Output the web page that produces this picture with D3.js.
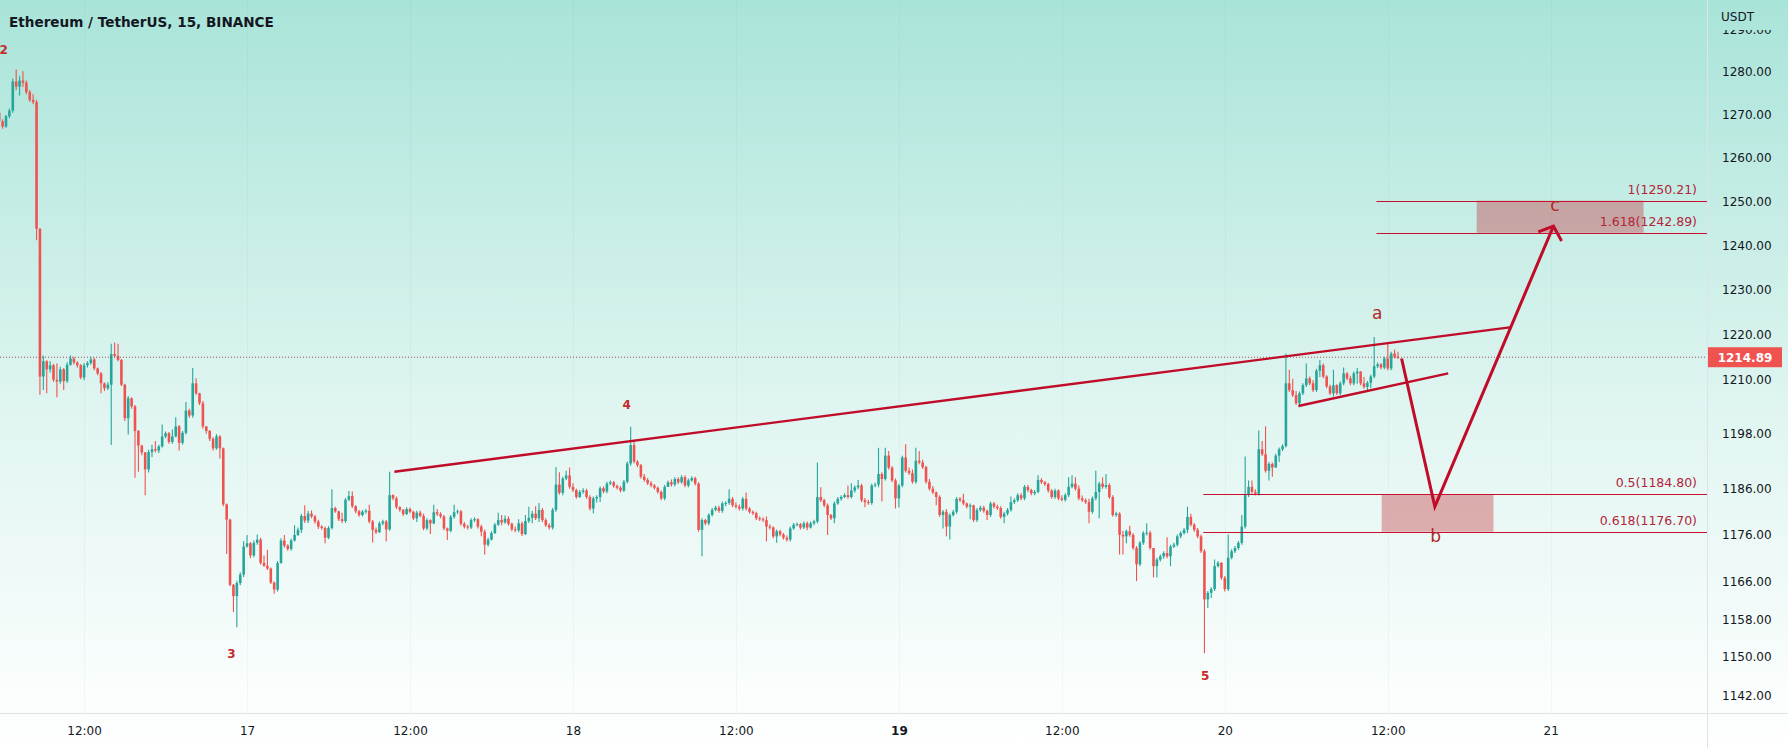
<!DOCTYPE html>
<html>
<head>
<meta charset="utf-8">
<script src="https://cdnjs.cloudflare.com/ajax/libs/d3/7.8.5/d3.min.js"></script>
<style>
html, body { margin: 0; padding: 0; background: #fff; }
body { width: 1788px; height: 748px; overflow: hidden; }
svg text { font-family: "DejaVu Sans", sans-serif; }
</style>
</head>
<body>
<svg id="chart" width="1788" height="748"></svg>
<script>
// ETHUSDT 15m candles, 16 05:45 -> 20 12:45 (open of each bar = previous close)
var firstOpen = 1270.5;
var closes = [
	1268.5, 1267.3, 1269.7, 1271.0, 1277.8, 1276.6, 1278.0, 1277.5, 1275.3, 1273.5,
	1273.0, 1243.8, 1210.6, 1214.0, 1212.2, 1213.1, 1209.9, 1209.5, 1212.2, 1209.6,
	1213.2, 1214.6, 1213.7, 1213.1, 1210.4, 1213.1, 1213.6, 1214.4, 1212.4, 1211.3,
	1209.1, 1208.0, 1208.8, 1215.6, 1215.2, 1214.3, 1208.8, 1201.4, 1205.8, 1204.0,
	1198.6, 1195.4, 1193.9, 1190.2, 1194.0, 1194.6, 1194.3, 1195.2, 1197.4, 1198.1,
	1196.2, 1197.4, 1199.6, 1196.0, 1198.2, 1203.1, 1202.0, 1209.1, 1206.9, 1204.7,
	1199.6, 1198.6, 1196.9, 1194.8, 1197.4, 1194.8, 1182.6, 1179.3, 1165.3, 1162.9,
	1165.7, 1167.5, 1173.5, 1174.2, 1171.6, 1174.3, 1175.0, 1170.0, 1169.4, 1168.8,
	1165.8, 1164.3, 1170.0, 1174.8, 1173.7, 1173.0, 1174.8, 1176.0, 1177.1, 1180.1,
	1179.1, 1180.6, 1180.0, 1178.9, 1177.8, 1177.5, 1175.4, 1177.5, 1181.8, 1181.1,
	1179.4, 1179.0, 1183.6, 1184.4, 1182.2, 1181.1, 1180.3, 1181.0, 1181.2, 1178.9,
	1177.1, 1176.6, 1178.5, 1178.9, 1177.2, 1184.6, 1183.9, 1182.0, 1181.4, 1180.5,
	1181.6, 1181.0, 1179.6, 1180.8, 1180.1, 1177.4, 1179.2, 1178.5, 1180.9, 1180.5,
	1180.0, 1177.4, 1176.9, 1179.9, 1180.9, 1181.1, 1178.4, 1177.8, 1177.6, 1179.2,
	1179.4, 1177.8, 1176.7, 1173.9, 1175.0, 1176.4, 1178.2, 1179.2, 1178.7, 1179.5,
	1178.4, 1177.2, 1177.0, 1178.5, 1176.2, 1179.0, 1179.7, 1180.6, 1179.6, 1181.4,
	1179.2, 1178.1, 1177.6, 1181.4, 1186.9, 1185.1, 1188.2, 1188.9, 1186.4, 1185.7,
	1184.2, 1185.3, 1185.6, 1184.2, 1181.7, 1183.9, 1184.2, 1186.1, 1185.4, 1187.1,
	1187.4, 1186.6, 1186.2, 1185.6, 1187.5, 1191.5, 1195.5, 1191.9, 1191.1, 1188.6,
	1187.9, 1187.2, 1186.7, 1186.2, 1185.3, 1183.9, 1186.4, 1187.4, 1186.9, 1188.1,
	1187.4, 1188.5, 1186.7, 1187.8, 1188.3, 1187.1, 1177.1, 1179.2, 1178.5, 1180.3,
	1181.4, 1181.9, 1181.2, 1182.8, 1182.9, 1183.8, 1182.4, 1182.1, 1181.7, 1183.8,
	1181.7, 1181.0, 1180.7, 1179.6, 1179.4, 1179.2, 1177.8, 1177.6, 1175.7, 1176.8,
	1176.1, 1175.4, 1175.0, 1177.4, 1178.2, 1178.3, 1177.6, 1178.5, 1177.6, 1178.5,
	1178.9, 1184.2, 1183.5, 1182.4, 1180.3, 1179.6, 1182.8, 1183.8, 1184.2, 1184.6,
	1184.2, 1185.6, 1186.3, 1186.7, 1183.5, 1183.1, 1182.9, 1186.7, 1186.9, 1189.2,
	1188.1, 1193.2, 1190.6, 1187.8, 1183.9, 1186.7, 1192.8, 1189.9, 1189.4, 1187.5,
	1192.1, 1191.7, 1190.7, 1187.5, 1186.0, 1185.2, 1184.2, 1180.3, 1181.0, 1177.8,
	1180.3, 1181.0, 1183.8, 1183.5, 1182.8, 1182.1, 1182.4, 1179.2, 1181.4, 1181.9,
	1181.2, 1180.3, 1182.8, 1182.1, 1181.8, 1179.9, 1180.6, 1181.4, 1183.1, 1183.5,
	1184.6, 1183.9, 1186.4, 1185.7, 1185.0, 1185.3, 1187.9, 1187.4, 1187.0, 1185.6,
	1184.2, 1185.6, 1183.9, 1183.6, 1184.6, 1186.4, 1187.1, 1186.0, 1183.9, 1183.5,
	1183.1, 1181.0, 1183.9, 1185.3, 1187.1, 1186.4, 1186.8, 1184.2, 1180.3, 1180.6,
	1176.0, 1175.7, 1176.8, 1176.0, 1173.2, 1169.7, 1174.3, 1176.4, 1176.5, 1173.2,
	1169.3, 1170.7, 1171.4, 1172.1, 1171.4, 1173.5, 1173.9, 1175.7, 1176.4, 1177.1,
	1179.9, 1178.2, 1177.1, 1175.7, 1172.5, 1162.2, 1163.6, 1164.4, 1169.3, 1170.0,
	1166.8, 1164.4, 1171.1, 1172.5, 1173.2, 1174.3, 1177.8, 1184.6, 1186.4, 1185.3,
	1184.9, 1194.6, 1193.5, 1189.9, 1191.4, 1190.6, 1193.2, 1194.6, 1195.3, 1209.1,
	1207.6, 1206.5, 1204.7, 1206.9, 1208.7, 1210.2, 1209.1, 1207.6, 1211.9, 1213.1,
	1210.6, 1208.4, 1206.9, 1208.7, 1206.9, 1209.1, 1211.3, 1210.2, 1209.1, 1211.3,
	1211.7, 1209.1, 1208.3, 1209.2, 1210.6, 1212.9, 1213.3, 1212.6, 1214.6, 1212.4,
	1215.7, 1215.0, 1214.89
];
var highs = [
	1271.0, 1269.0, 1270.0, 1271.5, 1278.5, 1280.6, 1279.0, 1280.2, 1278.0, 1275.8,
	1274.8, 1273.5, 1244.0, 1215.3, 1214.2, 1214.0, 1213.4, 1213.5, 1212.8, 1212.5,
	1213.8, 1215.3, 1215.0, 1214.0, 1213.4, 1213.6, 1214.0, 1215.0, 1214.8, 1212.6,
	1211.6, 1209.3, 1209.4, 1217.9, 1218.2, 1217.9, 1214.5, 1209.0, 1206.3, 1206.0,
	1204.3, 1198.8, 1195.6, 1194.0, 1194.5, 1195.6, 1196.4, 1195.6, 1200.0, 1198.5,
	1198.4, 1198.9, 1201.6, 1199.9, 1198.6, 1205.0, 1203.5, 1212.5, 1210.2, 1207.0,
	1205.2, 1199.7, 1198.8, 1197.2, 1197.9, 1197.7, 1195.0, 1182.8, 1179.5, 1165.5,
	1166.2, 1168.0, 1174.7, 1176.0, 1174.5, 1174.8, 1176.1, 1175.4, 1171.6, 1172.8,
	1169.0, 1166.0, 1170.4, 1175.3, 1176.0, 1174.0, 1175.2, 1178.1, 1177.6, 1180.5,
	1182.4, 1181.2, 1181.3, 1180.3, 1179.3, 1178.1, 1177.8, 1177.9, 1185.9, 1182.1,
	1181.2, 1180.8, 1184.0, 1185.5, 1185.4, 1182.4, 1181.4, 1181.4, 1181.6, 1182.5,
	1179.2, 1177.6, 1178.9, 1179.3, 1179.2, 1189.7, 1184.8, 1184.3, 1182.2, 1181.6,
	1182.0, 1181.9, 1181.2, 1181.2, 1181.3, 1180.6, 1179.6, 1179.4, 1182.5, 1181.6,
	1180.9, 1180.3, 1177.6, 1180.3, 1182.5, 1181.5, 1181.4, 1178.8, 1178.2, 1179.6,
	1179.8, 1179.6, 1178.2, 1177.2, 1175.4, 1176.8, 1178.6, 1180.8, 1180.3, 1180.2,
	1180.0, 1178.7, 1177.8, 1179.4, 1178.9, 1180.3, 1182.1, 1181.2, 1182.2, 1182.9,
	1181.8, 1179.6, 1178.5, 1181.8, 1190.7, 1189.6, 1188.6, 1189.9, 1190.6, 1187.2,
	1186.0, 1185.7, 1186.1, 1186.0, 1184.6, 1184.3, 1184.6, 1186.5, 1186.5, 1187.5,
	1187.8, 1187.7, 1186.9, 1186.6, 1187.9, 1191.9, 1199.5, 1196.6, 1192.2, 1191.4,
	1189.2, 1188.3, 1187.7, 1187.0, 1186.5, 1185.6, 1186.8, 1187.8, 1188.0, 1188.5,
	1188.5, 1188.9, 1188.9, 1188.2, 1188.7, 1188.6, 1187.4, 1179.6, 1179.5, 1180.7,
	1181.8, 1182.3, 1182.3, 1183.2, 1183.3, 1185.9, 1184.2, 1183.0, 1182.6, 1184.2,
	1185.2, 1182.0, 1181.3, 1181.0, 1180.0, 1179.8, 1180.0, 1178.3, 1177.9, 1177.2,
	1177.1, 1176.4, 1175.9, 1177.8, 1178.6, 1178.7, 1178.6, 1178.9, 1178.9, 1178.9,
	1179.3, 1191.7, 1186.3, 1183.8, 1182.8, 1180.5, 1183.2, 1184.2, 1184.6, 1185.0,
	1186.7, 1187.2, 1186.7, 1187.9, 1187.1, 1184.0, 1183.6, 1187.1, 1187.3, 1194.9,
	1189.6, 1194.9, 1194.2, 1190.9, 1188.2, 1187.1, 1193.2, 1195.7, 1190.6, 1190.2,
	1194.9, 1194.2, 1192.3, 1191.0, 1188.1, 1186.6, 1185.4, 1184.6, 1181.4, 1181.6,
	1180.7, 1181.4, 1184.2, 1184.2, 1184.9, 1183.0, 1182.8, 1182.5, 1181.8, 1182.3,
	1182.3, 1181.5, 1183.2, 1183.1, 1182.5, 1182.2, 1181.0, 1181.8, 1184.3, 1183.9,
	1185.0, 1185.0, 1186.8, 1186.8, 1186.0, 1185.7, 1188.9, 1188.3, 1187.7, 1187.3,
	1185.9, 1186.0, 1185.9, 1184.6, 1185.0, 1188.5, 1188.9, 1188.5, 1186.7, 1184.5,
	1183.9, 1183.8, 1184.3, 1189.9, 1187.5, 1188.5, 1189.2, 1187.2, 1184.6, 1181.0,
	1180.9, 1176.9, 1177.2, 1178.0, 1176.4, 1173.6, 1174.7, 1176.8, 1178.5, 1176.9,
	1173.0, 1171.1, 1171.8, 1172.5, 1175.5, 1173.9, 1174.3, 1176.1, 1176.8, 1177.5,
	1182.1, 1180.6, 1178.6, 1177.5, 1176.1, 1172.9, 1164.0, 1164.8, 1170.7, 1170.4,
	1170.2, 1167.2, 1176.1, 1172.9, 1173.6, 1174.7, 1180.3, 1193.0, 1187.8, 1187.8,
	1185.9, 1198.7, 1196.4, 1199.6, 1191.8, 1191.7, 1193.6, 1195.0, 1195.7, 1215.7,
	1212.1, 1210.1, 1207.4, 1207.3, 1209.1, 1213.5, 1210.6, 1209.8, 1212.3, 1214.3,
	1213.5, 1210.9, 1208.8, 1212.1, 1208.9, 1209.5, 1212.6, 1211.6, 1210.8, 1211.7,
	1212.5, 1211.8, 1210.5, 1209.6, 1211.0, 1219.4, 1213.7, 1213.6, 1215.0, 1218.3,
	1216.1, 1216.6, 1216.1
];
var lows = [
	1267.5, 1266.8, 1267.0, 1269.2, 1270.5, 1275.8, 1274.5, 1276.5, 1274.8, 1273.0,
	1272.5, 1241.2, 1206.6, 1207.6, 1206.9, 1211.5, 1209.4, 1206.0, 1209.0, 1207.6,
	1209.2, 1213.0, 1213.3, 1212.6, 1210.0, 1209.8, 1212.6, 1213.2, 1212.0, 1210.9,
	1206.9, 1207.4, 1207.6, 1195.5, 1214.8, 1214.0, 1208.5, 1200.8, 1197.8, 1203.5,
	1188.4, 1189.7, 1193.3, 1184.6, 1189.5, 1192.9, 1193.9, 1193.8, 1195.0, 1197.0,
	1195.8, 1195.8, 1197.2, 1194.3, 1195.6, 1197.8, 1201.5, 1201.5, 1206.5, 1204.3,
	1199.1, 1198.0, 1196.4, 1194.3, 1194.5, 1192.6, 1182.2, 1171.9, 1165.0, 1159.5,
	1156.3, 1165.2, 1167.0, 1173.3, 1171.0, 1171.2, 1173.9, 1169.6, 1169.1, 1168.5,
	1165.5, 1163.4, 1163.9, 1169.8, 1173.3, 1172.6, 1172.6, 1174.6, 1175.8, 1176.4,
	1178.6, 1178.6, 1179.6, 1178.4, 1177.3, 1177.1, 1174.2, 1175.1, 1177.2, 1180.8,
	1179.0, 1178.6, 1178.6, 1183.3, 1181.8, 1180.7, 1179.9, 1180.0, 1180.6, 1178.5,
	1174.4, 1176.2, 1176.4, 1178.1, 1174.6, 1176.9, 1183.5, 1181.6, 1181.0, 1180.1,
	1180.3, 1180.7, 1179.2, 1178.8, 1179.8, 1177.0, 1177.0, 1176.2, 1178.3, 1180.1,
	1179.6, 1177.0, 1174.9, 1176.6, 1179.5, 1180.5, 1178.0, 1177.4, 1177.2, 1177.3,
	1178.8, 1177.4, 1175.7, 1171.8, 1173.5, 1174.8, 1176.2, 1178.0, 1178.1, 1178.4,
	1178.0, 1176.8, 1176.6, 1176.6, 1175.8, 1176.0, 1178.6, 1178.5, 1179.2, 1178.8,
	1178.8, 1177.7, 1177.2, 1177.2, 1181.0, 1184.7, 1184.6, 1187.9, 1186.0, 1185.3,
	1183.8, 1184.0, 1184.9, 1183.8, 1181.3, 1180.7, 1183.0, 1183.1, 1185.0, 1185.0,
	1186.8, 1186.2, 1185.8, 1185.2, 1185.3, 1187.2, 1191.0, 1191.5, 1190.7, 1188.2,
	1187.5, 1186.8, 1186.3, 1185.8, 1184.9, 1183.5, 1183.5, 1186.4, 1186.5, 1186.5,
	1187.0, 1187.1, 1186.3, 1186.3, 1187.5, 1186.7, 1176.7, 1171.4, 1178.1, 1178.1,
	1180.0, 1181.1, 1180.8, 1180.8, 1182.2, 1182.5, 1182.0, 1181.7, 1181.3, 1181.3,
	1181.3, 1180.6, 1180.3, 1179.2, 1179.0, 1178.8, 1174.6, 1177.2, 1175.3, 1174.3,
	1175.7, 1175.0, 1174.6, 1174.6, 1177.1, 1177.9, 1177.2, 1177.3, 1177.0, 1177.4,
	1178.1, 1178.5, 1183.1, 1182.0, 1176.0, 1179.2, 1178.5, 1182.5, 1183.4, 1184.0,
	1183.8, 1183.9, 1185.2, 1185.9, 1183.1, 1182.0, 1182.5, 1182.5, 1186.3, 1186.3,
	1183.2, 1187.8, 1190.2, 1187.4, 1181.7, 1181.9, 1186.3, 1189.5, 1189.0, 1187.1,
	1187.1, 1191.3, 1190.3, 1187.1, 1185.6, 1184.8, 1182.4, 1179.9, 1177.4, 1175.7,
	1175.0, 1180.0, 1180.6, 1183.1, 1182.4, 1181.7, 1179.4, 1178.8, 1178.8, 1181.0,
	1180.8, 1179.2, 1179.9, 1181.7, 1181.4, 1179.5, 1178.5, 1180.2, 1181.0, 1182.7,
	1183.1, 1183.5, 1183.5, 1185.3, 1184.6, 1184.6, 1185.0, 1187.0, 1186.6, 1185.2,
	1183.8, 1183.8, 1183.5, 1183.3, 1183.2, 1184.2, 1186.1, 1185.6, 1183.5, 1183.1,
	1182.7, 1178.5, 1180.6, 1183.5, 1179.6, 1186.0, 1186.0, 1183.8, 1179.9, 1179.9,
	1171.8, 1171.8, 1174.2, 1175.6, 1172.8, 1166.1, 1169.3, 1173.9, 1175.9, 1172.8,
	1166.9, 1166.9, 1170.3, 1170.9, 1171.0, 1169.3, 1173.2, 1173.5, 1175.3, 1176.1,
	1176.4, 1177.8, 1176.7, 1175.3, 1172.1, 1150.8, 1160.4, 1162.5, 1164.0, 1169.0,
	1166.4, 1163.9, 1164.0, 1170.8, 1172.1, 1172.8, 1173.9, 1177.4, 1184.2, 1184.9,
	1184.5, 1184.5, 1193.1, 1189.5, 1187.8, 1188.6, 1190.6, 1191.8, 1194.2, 1195.0,
	1207.2, 1206.1, 1204.3, 1204.3, 1206.5, 1208.3, 1208.7, 1207.2, 1207.2, 1210.5,
	1210.2, 1208.0, 1206.5, 1206.2, 1206.5, 1206.5, 1208.7, 1209.8, 1208.7, 1208.7,
	1209.0, 1208.7, 1207.9, 1207.3, 1208.0, 1210.2, 1212.5, 1212.2, 1212.2, 1212.0,
	1212.0, 1214.6, 1214.5
];

var priceTicks = [1290, 1280, 1270, 1260, 1250, 1240, 1230, 1220, 1210, 1198, 1186, 1176, 1166, 1158, 1150, 1142];
var timeTicks = ["2022-11-16T12:00Z", "2022-11-17T00:00Z", "2022-11-17T12:00Z", "2022-11-18T00:00Z", "2022-11-18T12:00Z",
	"2022-11-19T00:00Z", "2022-11-19T12:00Z", "2022-11-20T00:00Z", "2022-11-20T12:00Z", "2022-11-21T00:00Z"];
var lastPrice = 1214.89;

var fibLevels = [1250.21, 1242.89, 1184.80, 1176.70];
var fibLabels = ["1(1250.21)", "1.618(1242.89)", "0.5(1184.80)", "0.618(1176.70)"];
var fibStarts = ["2022-11-20T11:10Z", "2022-11-20T11:10Z", "2022-11-19T22:25Z", "2022-11-19T22:25Z"];
var fibZones = [
	["2022-11-20T18:33Z", "2022-11-21T06:50Z", 1250.21, 1242.89],
	["2022-11-20T11:33Z", "2022-11-20T19:47Z", 1184.80, 1176.70]
];
var trendLines = [
	[["2022-11-17T10:51Z", 1189.7], ["2022-11-20T21:07Z", 1221.6]],
	[["2022-11-20T05:25Z", 1204.1], ["2022-11-20T16:27Z", 1211.3]]
];
var projection = [["2022-11-20T13:01Z", 1214.6], ["2022-11-20T15:28Z", 1182.1], ["2022-11-21T00:12Z", 1244.4]];
var arrowHead = [["2022-11-20T23:05Z", 1243.1], ["2022-11-21T00:12Z", 1244.4], ["2022-11-21T00:48Z", 1241.0]];
var waveLabels = [
	["2", "2022-11-16T06:05Z", 1285.2],
	["3", "2022-11-16T22:51Z", 1150.8],
	["4", "2022-11-18T03:57Z", 1204.3],
	["5", "2022-11-19T22:33Z", 1146.0]
];
var letterLabels = [
	["a", "2022-11-20T11:13Z", 1224.7],
	["b", "2022-11-20T15:31Z", 1175.8],
	["c", "2022-11-21T00:19Z", 1249.2]
];

var W = 1788, H = 748, plotW = 1707, plotH = 713;
var barMs = 15 * 60 * 1000;
var t0 = Date.UTC(2022, 10, 16, 5, 45);
var up = "#26a69a", down = "#ef5350", ink = "#131722";
var drawRed = "#c00b29", fibRed = "#c8102e", fibText = "#b3243a";

var svg = d3.select("#chart");

var x = d3.scaleUtc()
	.domain([new Date(t0), new Date(t0 + 503 * barMs)])
	.range([-0.8, 1706.9]);
var y = d3.scaleLog()
	.domain([1176.70, 1250.21])
	.range([531.7, 200.7]);

function px(p) { return x(new Date(p[0])); }
function py(p) { return y(p[1]); }

var defs = svg.append("defs");
var grad = defs.append("linearGradient")
	.attr("id", "bg").attr("gradientUnits", "userSpaceOnUse")
	.attr("x1", 0).attr("y1", 0).attr("x2", 0).attr("y2", H);
grad.append("stop").attr("offset", 0).attr("stop-color", "#a9e4d9");
grad.append("stop").attr("offset", 0.55).attr("stop-color", "#e0f5f1");
grad.append("stop").attr("offset", 1).attr("stop-color", "#ffffff");
defs.append("clipPath").attr("id", "plot")
	.append("rect").attr("width", plotW).attr("height", plotH);

svg.append("rect").attr("width", W).attr("height", H).attr("fill", "url(#bg)");

var plot = svg.append("g").attr("clip-path", "url(#plot)");

plot.selectAll("line.grid")
	.data(timeTicks)
	.enter().append("line")
	.attr("class", "grid")
	.attr("x1", function (d) { return Math.round(x(new Date(d))) + 0.5; })
	.attr("x2", function (d) { return Math.round(x(new Date(d))) + 0.5; })
	.attr("y1", 0).attr("y2", plotH)
	.attr("stroke", "rgba(42,46,57,0.035)");

var candles = closes.map(function (c, i) {
	return {
		t: new Date(t0 + i * barMs),
		o: i == 0 ? firstOpen : closes[i - 1],
		c: c, h: highs[i], l: lows[i]
	};
});

var bw = 2.6;
var cg = plot.append("g");
cg.selectAll("line")
	.data(candles)
	.enter().append("line")
	.attr("x1", function (d) { return x(d.t); })
	.attr("x2", function (d) { return x(d.t); })
	.attr("y1", function (d) { return y(d.h); })
	.attr("y2", function (d) { return y(d.l); })
	.attr("stroke", function (d) { return d.c >= d.o ? up : down; })
	.attr("stroke-width", 1.1);
cg.selectAll("rect")
	.data(candles)
	.enter().append("rect")
	.attr("x", function (d) { return x(d.t) - bw / 2; })
	.attr("y", function (d) { return y(Math.max(d.o, d.c)); })
	.attr("width", bw)
	.attr("height", function (d) { return Math.max(1, Math.abs(y(d.o) - y(d.c))); })
	.attr("fill", function (d) { return d.c >= d.o ? up : down; });

plot.append("line")
	.attr("x1", 0).attr("x2", plotW)
	.attr("y1", y(lastPrice)).attr("y2", y(lastPrice))
	.attr("stroke", "#a05050").attr("stroke-width", 1)
	.attr("stroke-dasharray", "1,2");

// fib zones and levels
plot.selectAll("rect.zone")
	.data(fibZones)
	.enter().append("rect")
	.attr("class", "zone")
	.attr("x", function (d) { return x(new Date(d[0])); })
	.attr("width", function (d) { return x(new Date(d[1])) - x(new Date(d[0])); })
	.attr("y", function (d) { return y(d[2]); })
	.attr("height", function (d) { return y(d[3]) - y(d[2]); })
	.attr("fill", "rgba(196,40,48,0.36)");

fibLevels.forEach(function (lv, i) {
	var yy = Math.round(y(lv)) + 0.5;
	plot.append("line")
		.attr("x1", x(new Date(fibStarts[i]))).attr("x2", plotW)
		.attr("y1", yy).attr("y2", yy)
		.attr("stroke", fibRed).attr("stroke-width", 1);
	plot.append("text")
		.attr("x", plotW - 10).attr("y", yy - 8)
		.attr("text-anchor", "end")
		.attr("font-size", "12.5px")
		.attr("fill", fibText)
		.text(fibLabels[i]);
});

var line = d3.line().x(px).y(py);

plot.selectAll("path.trend")
	.data(trendLines)
	.enter().append("path")
	.attr("class", "trend")
	.attr("d", line)
	.attr("fill", "none")
	.attr("stroke", drawRed)
	.attr("stroke-width", 2.4);

plot.append("path")
	.attr("d", line(projection))
	.attr("fill", "none")
	.attr("stroke", drawRed)
	.attr("stroke-width", 3)
	.attr("stroke-linejoin", "miter");
plot.append("path")
	.attr("d", line(arrowHead))
	.attr("fill", "none")
	.attr("stroke", drawRed)
	.attr("stroke-width", 3);

plot.selectAll("text.wave")
	.data(waveLabels)
	.enter().append("text")
	.attr("class", "wave")
	.attr("x", function (d) { return x(new Date(d[1])); })
	.attr("y", function (d) { return y(d[2]); })
	.attr("dy", "0.36em")
	.attr("text-anchor", "middle")
	.attr("font-size", "12px")
	.attr("font-weight", "bold")
	.attr("fill", "#c62a2a")
	.text(function (d) { return d[0]; });

plot.selectAll("text.letter")
	.data(letterLabels)
	.enter().append("text")
	.attr("class", "letter")
	.attr("x", function (d) { return x(new Date(d[1])); })
	.attr("y", function (d) { return y(d[2]); })
	.attr("dy", "0.36em")
	.attr("text-anchor", "middle")
	.attr("font-size", "17px")
	.attr("fill", "#b02a2a")
	.text(function (d) { return d[0]; });

// axes
var fmtTime = function (d) {
	return d.getUTCHours() == 0 && d.getUTCMinutes() == 0 ? d3.utcFormat("%-d")(d) : d3.utcFormat("%H:%M")(d);
};
var xAxis = svg.append("g")
	.attr("transform", "translate(0," + plotH + ")")
	.call(d3.axisBottom(x)
		.tickValues(timeTicks.map(function (d) { return new Date(d); }))
		.tickFormat(fmtTime)
		.tickSize(0).tickPadding(13));
xAxis.select(".domain").remove();
xAxis.selectAll("text")
	.attr("font-family", "DejaVu Sans, sans-serif")
	.attr("font-size", "12px")
	.attr("fill", ink)
	.attr("font-weight", function (d) { return d.getUTCDate() == 19 && d.getUTCHours() == 0 ? "bold" : null; });

var yAxis = svg.append("g")
	.attr("transform", "translate(" + plotW + ",0)")
	.call(d3.axisRight(y)
		.tickValues(priceTicks)
		.tickFormat(d3.format(".2f"))
		.tickSize(0).tickPadding(15));
yAxis.select(".domain").remove();
yAxis.selectAll("text")
	.attr("font-family", "DejaVu Sans, sans-serif")
	.attr("font-size", "12px")
	.attr("fill", ink);

svg.append("rect")
	.attr("x", plotW + 1).attr("y", 0)
	.attr("width", W - plotW - 1).attr("height", 30)
	.attr("fill", "url(#bg)");
svg.append("text")
	.attr("x", plotW + 14).attr("y", 21)
	.attr("font-size", "12px")
	.attr("fill", ink)
	.text("USDT");

svg.append("line")
	.attr("x1", 0).attr("x2", W)
	.attr("y1", plotH + 0.5).attr("y2", plotH + 0.5)
	.attr("stroke", "#dfe2e6");
svg.append("line")
	.attr("x1", plotW + 0.5).attr("x2", plotW + 0.5)
	.attr("y1", 0).attr("y2", H)
	.attr("stroke", "#dfe2e6");

var ly = y(lastPrice);
svg.append("rect")
	.attr("x", plotW + 1).attr("y", ly - 10)
	.attr("width", 74).attr("height", 20)
	.attr("fill", down);
svg.append("text")
	.attr("x", plotW + 38).attr("y", ly)
	.attr("dy", "0.36em")
	.attr("text-anchor", "middle")
	.attr("font-size", "12px")
	.attr("font-weight", "bold")
	.attr("fill", "#fff")
	.text(d3.format(".2f")(lastPrice));

var title = svg.append("text")
	.attr("x", 9).attr("y", 27)
	.attr("font-family", "Lato, sans-serif")
	.attr("font-size", "16px")
	.attr("font-weight", 700)
	.attr("fill", ink)
	.text("Ethereum / TetherUS, 15, BINANCE");
var tw = title.node().getComputedTextLength();
title.attr("font-size", (16 * 265 / tw) + "px");
</script>
</body>
</html>
